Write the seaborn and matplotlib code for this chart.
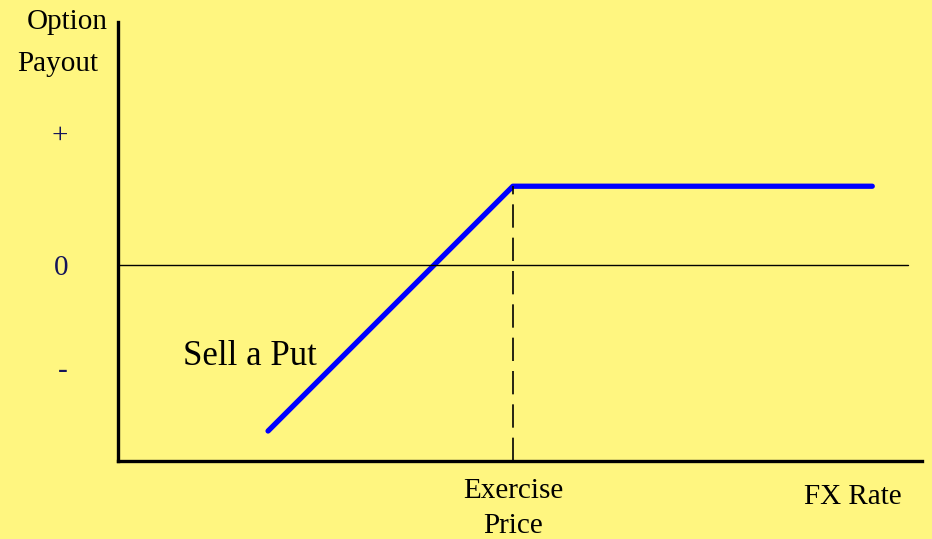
"""
Diagrama de pago: venta de una opción put
"""

import matplotlib.pyplot as plt
import seaborn as sns
import numpy as np
import pandas as pd

# Datos del diagrama
fx_rate = [1.9, 5.0, 9.55]
payout = [-2.1, 1.0, 1.0]
strike = 5.0
premium = 1.0
ytick_pos = [1.67, 0.0, -1.3]
ytick_labels = ['+', '0', '-']

bg = '#FFF680'

sns.set_style('white')
plt.rcParams['font.family'] = ['Liberation Serif', 'DejaVu Serif']
plt.rcParams['text.color'] = 'black'

fig = plt.figure(figsize=(9.32, 5.39), dpi=100, facecolor=bg)
ax = fig.add_axes([0.1266, 0.1447, 0.8627, 0.8145])
ax.set_facecolor(bg)

df = pd.DataFrame({'fx': fx_rate, 'payout': payout})
sns.lineplot(data=df, x='fx', y='payout', color='#0000FF', linewidth=3.8,
             sort=False, estimator=None, ax=ax)

# Línea cero y precio de ejercicio
ax.axhline(0, xmin=0, xmax=0.983, color='black', linewidth=1.0)
ax.plot([strike, strike], [-2.48, premium], color='black', linewidth=1.2,
        linestyle=(0, (14, 6)))

ax.set_xlim(0, 10.18)
ax.set_ylim(-2.48, 3.08)

for side in ['top', 'right']:
    ax.spines[side].set_visible(False)
for side in ['left', 'bottom']:
    ax.spines[side].set_color('black')
    ax.spines[side].set_linewidth(2.4)

ax.set_yticks(ytick_pos)
ax.set_yticklabels(ytick_labels, fontsize=21, color='#14145a')
ax.tick_params(axis='y', length=0, pad=36)
ax.set_xticks([strike])
ax.set_xticklabels(['Exercise\nPrice'], fontsize=21, color='black', linespacing=1.45)
ax.tick_params(axis='x', length=0, pad=12)
ax.set_xlabel('')
ax.set_ylabel('')

ax.text(9.3, -2.94, 'FX Rate', fontsize=21, ha='center', va='center', color='black')
ax.text(1.67, -1.16, 'Sell a Put', fontsize=25, ha='center', va='center', color='black')

fig.text(67 / 932, 1 - 22 / 539, 'Option', fontsize=21, ha='center', va='center', color='black')
fig.text(58 / 932, 1 - 64 / 539, 'Payout', fontsize=21, ha='center', va='center', color='black')

fig.savefig('out.png', dpi=100, facecolor=bg)
